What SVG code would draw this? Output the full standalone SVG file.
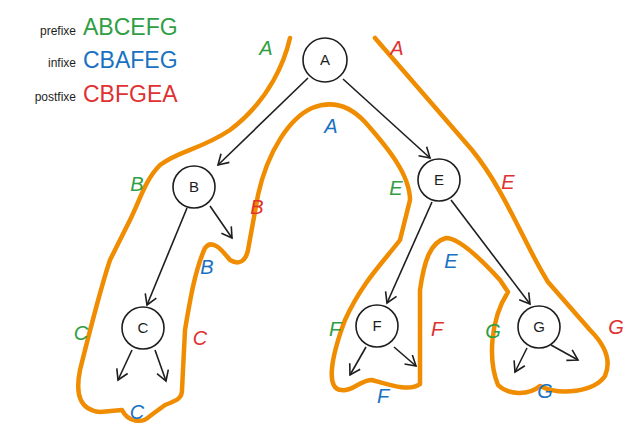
<svg xmlns="http://www.w3.org/2000/svg" width="637" height="444" viewBox="0 0 637 444">
<defs>
<style>
.n{fill:#fff;stroke:#1e1e1e;stroke-width:1.6}
.nt{font-family:"Liberation Sans",sans-serif;font-size:15px;text-anchor:middle;fill:#1e1e1e}
.e{stroke:#1e1e1e;stroke-width:1.6;fill:none;marker-end:url(#ar)}
.l{font-family:"Liberation Sans",sans-serif;font-size:20px;text-anchor:middle;font-style:italic}
.g{fill:#2f9e44}.r{fill:#e03131}.b{fill:#1971c2}
.s{font-family:"Liberation Sans",sans-serif;font-size:12px;text-anchor:end;fill:#1e1e1e}
.big{font-family:"Liberation Sans",sans-serif;font-size:23px}
</style>
<marker id="ar" markerWidth="14" markerHeight="14" refX="11" refY="7" orient="auto" markerUnits="userSpaceOnUse">
<path d="M1,1 L11,7 L1,13" fill="none" stroke="#1e1e1e" stroke-width="1.6"/>
</marker>
</defs>
<rect width="637" height="444" fill="#fff"/>
<g id="legend">
<text class="s" x="76" y="35">prefixe</text><text class="big g" x="83" y="35">ABCEFG</text>
<text class="s" x="76" y="67">infixe</text><text class="big b" x="83" y="68">CBAFEG</text>
<text class="s" x="76" y="101">postfixe</text><text class="big r" x="83" y="102">CBFGEA</text>
</g>
<g id="outline">
<path d="M290,38 C285,60 270,100 230,130 C200,150 180,150 160,165 C145,180 140,200 130,220 L110,260 C100,290 90,330 80,370 C75,395 80,410 100,412 L122,410 C128,422 142,424 150,416 L165,405 C178,400 182,398 182,390 L185,330 C190,300 195,270 205,248 C212,238 222,250 230,260 C240,266 246,260 248,250 L258,195 C268,150 290,118 312,108 C332,100 350,106 365,122 C388,148 410,175 410,200 L400,240 C385,260 362,282 345,320 C330,360 326,390 342,390 C352,392 360,380 372,380 C390,385 410,392 420,384 L420,290 C424,262 430,242 446,238 C458,238 480,258 500,280 L508,292 C490,320 488,360 498,385 C508,395 528,396 540,386 C560,396 594,392 605,376 C612,360 605,345 590,330 L548,282 C522,240 506,192 472,150 L375,38" fill="none" stroke="#f08c00" stroke-width="4.5" stroke-linejoin="round" stroke-linecap="round"/>
</g>
<g id="connectors">
<path class="e" d="M308,78 L218,165"/>
<path class="e" d="M343,79 L430,158"/>
<path class="e" d="M187,208 L147,305"/>
<path class="e" d="M210,206 L232,238"/>
<path class="e" d="M432,202 L387,303"/>
<path class="e" d="M451,200 L530,304"/>
<path class="e" d="M132,350 L118,380"/>
<path class="e" d="M155,350 L166,381"/>
<path class="e" d="M366,347 L350,375"/>
<path class="e" d="M394,347 L416,366"/>
<path class="e" d="M527,348 L515,372"/>
<path class="e" d="M551,345 L578,360"/>
</g>
<g id="A"><circle class="n" cx="325" cy="60" r="22"/><text class="nt" x="325" y="65">A</text></g>
<g id="B"><circle class="n" cx="194" cy="187" r="21"/><text class="nt" x="194" y="192">B</text></g>
<g id="E"><circle class="n" cx="439" cy="180" r="21"/><text class="nt" x="439" y="185">E</text></g>
<g id="C"><circle class="n" cx="143" cy="328" r="21"/><text class="nt" x="143" y="333">C</text></g>
<g id="F"><circle class="n" cx="377" cy="326" r="21"/><text class="nt" x="377" y="331">F</text></g>
<g id="G"><circle class="n" cx="539" cy="327" r="21"/><text class="nt" x="539" y="332">G</text></g>
<g id="labels">
<text class="l g" x="266" y="55">A</text><text class="l r" x="397" y="55">A</text><text class="l b" x="331" y="133">A</text>
<text class="l g" x="137" y="191">B</text><text class="l r" x="257" y="214">B</text><text class="l b" x="207" y="274">B</text>
<text class="l g" x="396" y="195">E</text><text class="l r" x="508" y="189">E</text><text class="l b" x="451" y="268">E</text>
<text class="l g" x="81" y="340">C</text><text class="l r" x="200" y="345">C</text><text class="l b" x="137" y="419">C</text>
<text class="l g" x="335" y="336">F</text><text class="l r" x="437" y="336">F</text><text class="l b" x="383" y="403">F</text>
<text class="l g" x="493" y="338">G</text><text class="l r" x="616" y="334">G</text><text class="l b" x="545" y="398">G</text>
</g>
</svg>
